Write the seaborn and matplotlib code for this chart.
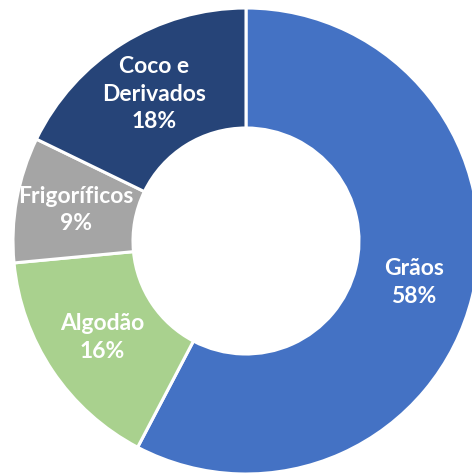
import numpy as np
import matplotlib
matplotlib.use("Agg")
import matplotlib.pyplot as plt
import seaborn as sns

# Data
categories = ['Grãos', 'Algodão', 'Frigoríficos', 'Coco e\nDerivados']
shares = [57.7, 15.8, 8.7, 17.8]
colors = ['#4472C4', '#A9D18E', '#A5A5A5', '#264478']

sns.set_style('white')
plt.rcParams['font.family'] = ['Lato', 'DejaVu Sans']

fig = plt.figure(figsize=(4.72, 4.73), dpi=100)
ax = fig.add_axes([0, 0, 1, 1])

wedges, _ = ax.pie(shares, colors=colors, startangle=90, counterclock=False,
                   radius=1.0,
                   wedgeprops=dict(width=0.515, edgecolor='white', linewidth=2.2))

# labels at the middle of the ring
total = sum(shares)
r_mid = 1.0 - 0.515 / 2
for w, name, val in zip(wedges, categories, shares):
    ang = np.deg2rad((w.theta1 + w.theta2) / 2)
    x, y = r_mid * np.cos(ang), r_mid * np.sin(ang)
    ax.text(x, y, f'{name}\n{round(val / total * 100):.0f}%', ha='center', va='center',
            color='white', fontsize=16.5, fontweight='bold', linespacing=1.38)

# place the ring like in the reference (center ~ (246, 241) px, radius ~233 px)
R = 233
ax.set_xlim(-246 / R, (472 - 246) / R)
ax.set_ylim(-(473 - 241) / R, 241 / R)
ax.set_aspect('auto')
ax.axis('off')

fig.savefig('out.png', dpi=100)
